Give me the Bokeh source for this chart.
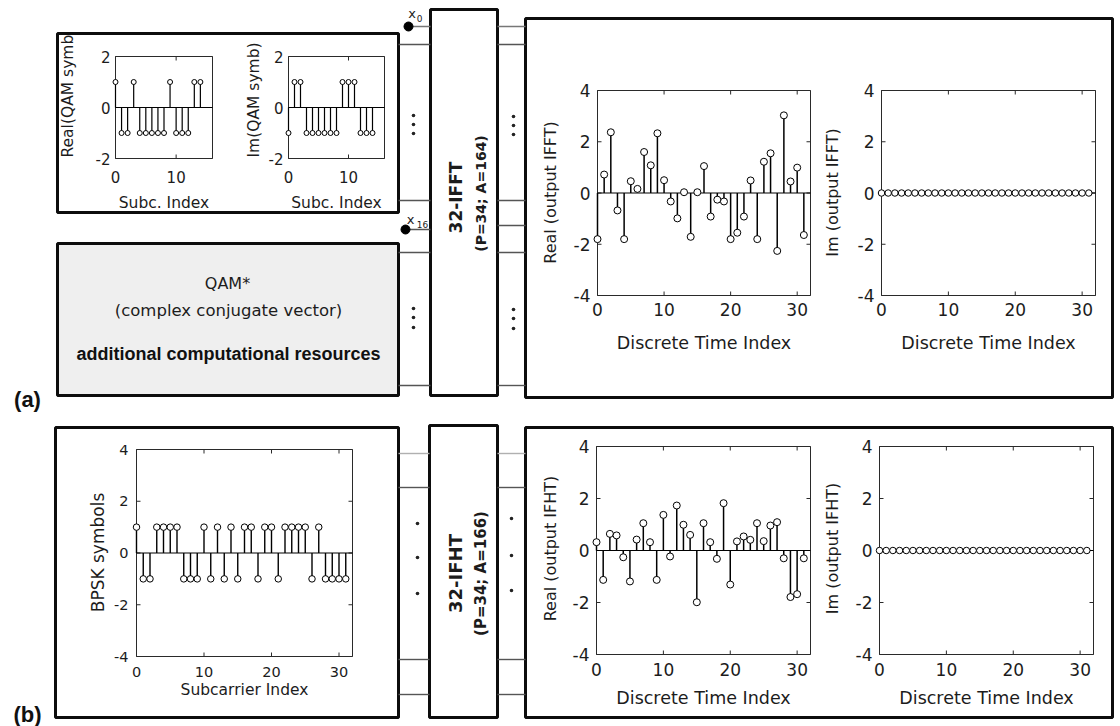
import math
from bokeh.plotting import figure
from bokeh.models import Range1d
from bokeh.embed import file_html
from bokeh.resources import INLINE
from bokeh.core.properties import value

W, H = 1120, 726
FONT = "DejaVu Sans"
INK = "#1c1c1c"
FRAME = "#2a2a2a"

# ---------------- data ----------------
qam_index = [0, 1, 2, 3, 4, 5, 6, 7, 8, 9, 10, 11, 12, 13, 14]
qam_real = [1, -1, -1, 1, -1, -1, -1, -1, -1, 1, -1, -1, -1, 1, 1]
qam_imag = [-1, 1, 1, -1, -1, -1, -1, -1, -1, 1, 1, 1, -1, -1, -1]

time_index = [0, 1, 2, 3, 4, 5, 6, 7, 8, 9, 10, 11, 12, 13, 14, 15,
              16, 17, 18, 19, 20, 21, 22, 23, 24, 25, 26, 27, 28, 29, 30, 31]
ifft_real = [-1.80, 0.72, 2.37, -0.68, -1.80, 0.46, 0.16, 1.60, 1.08, 2.33, 0.50, -0.33,
             -0.99, 0.03, -1.71, 0.03, 1.05, -0.92, -0.26, -0.33, -1.80, -1.55, -0.92, 0.49,
             -1.80, 1.22, 1.55, -2.26, 3.03, 0.45, 0.99, -1.64]
ifft_imag = [0, 0, 0, 0, 0, 0, 0, 0, 0, 0, 0, 0, 0, 0, 0, 0,
             0, 0, 0, 0, 0, 0, 0, 0, 0, 0, 0, 0, 0, 0, 0, 0]

bpsk = [1, -1, -1, 1, 1, 1, 1, -1, -1, -1, 1, -1, 1, -1, 1, -1,
        1, 1, -1, 1, 1, -1, 1, 1, 1, 1, -1, 1, -1, -1, -1, -1]
ifht_real = [0.32, -1.13, 0.64, 0.58, -0.26, -1.19, 0.42, 1.05, 0.32, -1.13, 1.37, -0.23,
             1.73, 0.99, 0.60, -1.99, 1.05, 0.32, -0.32, 1.82, -1.31, 0.35, 0.54, 0.41,
             1.05, 0.36, 0.96, 1.09, -0.30, -1.79, -1.68, -0.30]
ifht_imag = [0, 0, 0, 0, 0, 0, 0, 0, 0, 0, 0, 0, 0, 0, 0, 0,
             0, 0, 0, 0, 0, 0, 0, 0, 0, 0, 0, 0, 0, 0, 0, 0]

small_xticks = [0, 10]
small_yticks = [-2, 0, 2]
big_xticks = [0, 10, 20, 30]
big_yticks = [-4, -2, 0, 2, 4]

panels = [
    dict(name="qr", frame=(115, 212, 56, 158), xr=(0, 16), yr=(-2, 2), xt=small_xticks, yt=small_yticks,
         x=qam_index, y=qam_real, xlabel="Subc. Index", ylabel="Real(QAM symb",
         fs_t=15, fs_x=15.5, fs_y=15.5, tdx=-5, tdy=18, xldy=44, yl=(67, 157, "left"), ms=5, sw=1.2),
    dict(name="qi", frame=(288, 384, 56, 158), xr=(0, 16), yr=(-2, 2), xt=small_xticks, yt=small_yticks,
         x=qam_index, y=qam_imag, xlabel="Subc. Index", ylabel="Im(QAM symb)",
         fs_t=15, fs_x=15.5, fs_y=15.5, tdx=-5, tdy=18, xldy=44, yl=(253, 157, "left"), ms=5, sw=1.2),
    dict(name="br", frame=(597, 810, 90, 295), xr=(0, 32), yr=(-4, 4), xt=big_xticks, yt=big_yticks,
         x=time_index, y=ifft_real, xlabel="Discrete Time Index", ylabel="Real (output IFFT)",
         fs_t=17, fs_x=17.5, fs_y=16, tdx=-7, tdy=14, xldy=47, yl=(550, 192, "center"), ms=7, sw=1.5),
    dict(name="bi", frame=(881, 1095, 90, 295), xr=(0, 32), yr=(-4, 4), xt=big_xticks, yt=big_yticks,
         x=time_index, y=ifft_imag, xlabel="Discrete Time Index", ylabel="Im (output IFFT)",
         fs_t=17, fs_x=17.5, fs_y=16, tdx=-7, tdy=14, xldy=47, yl=(832, 192, "center"), ms=6.5, sw=1.5),
    dict(name="bp", frame=(136, 352, 449, 656), xr=(0, 32), yr=(-4, 4), xt=big_xticks, yt=big_yticks,
         x=time_index, y=bpsk, xlabel="Subcarrier Index", ylabel="BPSK symbols",
         fs_t=14.5, fs_x=15.5, fs_y=17, tdx=-8, tdy=15, xldy=33, yl=(97, 552, "center"), ms=6.5, sw=1.4),
    dict(name="hr", frame=(596, 810, 446, 654), xr=(0, 32), yr=(-4, 4), xt=big_xticks, yt=big_yticks,
         x=time_index, y=ifht_real, xlabel="Discrete Time Index", ylabel="Real (output IFHT)",
         fs_t=17, fs_x=17.5, fs_y=16, tdx=-7, tdy=15, xldy=43, yl=(550, 548, "center"), ms=7, sw=1.5),
    dict(name="hi", frame=(879, 1093, 446, 654), xr=(0, 32), yr=(-4, 4), xt=big_xticks, yt=big_yticks,
         x=time_index, y=ifht_imag, xlabel="Discrete Time Index", ylabel="Im (output IFHT)",
         fs_t=17, fs_x=17.5, fs_y=16, tdx=-7, tdy=15, xldy=43, yl=(832, 548, "center"), ms=6.5, sw=1.5),
]

# ---------------- figure: pixel-like main frame ----------------
p = figure(width=W, height=H, x_range=Range1d(0, W), y_range=Range1d(H, 0),
           output_backend="svg", toolbar_location=None, x_axis_type=None, y_axis_type=None,
           min_border=0, outline_line_color=None, background_fill_color="white",
           border_fill_color="white")

ex, ey = {}, {}
for s in panels:
    px0, px1, py0, py1 = s["frame"]
    x0, x1 = s["xr"]
    y0, y1 = s["yr"]
    ux = (x1 - x0) / (px1 - px0)
    uy = (y1 - y0) / (py1 - py0)
    s["ux"], s["uy"] = ux, uy
    ex[s["name"]] = Range1d(x0 - px0 * ux, x0 + (W - px0) * ux)
    ey[s["name"]] = Range1d(y0 - (H - py1) * uy, y1 + py0 * uy)
p.extra_x_ranges = ex
p.extra_y_ranges = ey


def txt(x, y, t, size, align="center", baseline="middle", angle=0.0, bold=False, font=FONT, color=INK, **kw):
    p.text(x=x, y=y, text=t, angle=angle, text_align=align, text_baseline=baseline,
           text_font=value(font), text_font_size=value(f"{size}px"),
           text_font_style="bold" if bold else "normal", text_color=color, **kw)


# ---------------- diagram boxes ----------------
box_l = [57, 57, 430, 525, 55, 429, 525]
box_r = [398, 398, 497, 1112, 398, 497, 1112]
box_t = [33, 243, 9, 18, 427, 425, 427]
box_b = [212, 395, 395, 397, 717, 717, 717]
box_fill = ["white", "#efefef", "white", "white", "white", "white", "white"]
p.quad(left=box_l, right=box_r, top=box_t, bottom=box_b, fill_color=box_fill,
       line_color="#0d0d0d", line_width=3)

# connector lines
cx0, cy0, cx1, cy1, ccol = [], [], [], [], []
for y in [44, 200, 252, 385]:
    cx0.append(398); cx1.append(430); cy0.append(y); cy1.append(y); ccol.append("#555555")
cx0 += [408, 405]; cx1 += [430, 430]; cy0 += [26, 229]; cy1 += [26, 229]; ccol += ["#777777", "#555555"]
for y in [26, 44, 200, 225, 252, 385]:
    cx0.append(497); cx1.append(525); cy0.append(y); cy1.append(y)
    ccol.append("#777777" if y == 26 else "#555555")
for y in [453, 487, 659, 694]:
    c = "#b0b0b0" if y == 453 else "#555555"
    cx0 += [398, 497]; cx1 += [429, 525]; cy0 += [y, y]; cy1 += [y, y]; ccol += [c, c]
p.segment(x0=cx0, y0=cy0, x1=cx1, y1=cy1, line_color=ccol, line_width=1.4)

# terminal dots x0, x16
p.scatter(x=[408, 405], y=[26, 229], size=9, marker="circle", fill_color="black", line_color="black")
txt([411.5], [12.5], ["x"], 13)
txt([419], [17.5], ["0"], 9)
txt([410], [219], ["x"], 13)
txt([422], [223.5], ["16"], 9)

# ellipsis dots
dx = [413, 413, 413, 413, 413, 413, 513, 513, 513, 513, 513, 513,
      417, 417, 417, 511, 511, 511]
dy = [115, 124, 133, 308, 317, 327, 116, 125, 134, 309, 318, 328,
      523, 557, 593, 518, 555, 590]
p.scatter(x=dx, y=dy, size=3.6, marker="circle", fill_color="#222222", line_color=None)

# block labels
txt([455], [197], ["32-IFFT"], 17, angle=math.pi / 2, bold=True)
txt([480], [193], ["(P=34; A=164)"], 14, angle=math.pi / 2, bold=True)
txt([455], [573], ["32-IFHT"], 18, angle=math.pi / 2, bold=True)
txt([480], [573], ["(P=34; A=166)"], 15, angle=math.pi / 2, bold=True)

# QAM* box
txt([227], [283], ["QAM*"], 16)
txt([228], [310], ["(complex conjugate vector)"], 16.5)
txt([228], [353], ["additional computational resources"], 18, bold=True, font="Liberation Sans", color="#111111")

# panel letters
txt([27], [399], ["(a)"], 22, bold=True, font="Liberation Sans", color="#111111")
txt([27], [714], ["(b)"], 22, bold=True, font="Liberation Sans", color="#111111")

# ---------------- stem panels ----------------
for s in panels:
    n = s["name"]
    kw = dict(x_range_name=n, y_range_name=n)
    x0, x1 = s["xr"]
    y0, y1 = s["yr"]
    ux, uy = s["ux"], s["uy"]
    tl = 4
    xt, yt = s["xt"], s["yt"]
    # frame
    p.quad(left=[x0], right=[x1], bottom=[y0], top=[y1], fill_color=None,
           line_color=FRAME, line_width=1, **kw)
    # inward ticks
    tx0 = xt + xt
    ty0 = [y0] * len(xt) + [y1] * len(xt)
    ty1 = [y0 + tl * uy] * len(xt) + [y1 - tl * uy] * len(xt)
    p.segment(x0=tx0, y0=ty0, x1=tx0, y1=ty1, line_color=FRAME, line_width=1, **kw)
    sx0 = [x0] * len(yt) + [x1] * len(yt)
    sx1 = [x0 + tl * ux] * len(yt) + [x1 - tl * ux] * len(yt)
    sy = yt + yt
    p.segment(x0=sx0, y0=sy, x1=sx1, y1=sy, line_color=FRAME, line_width=1, **kw)
    # tick labels
    txt(xt, [y0 - s["tdy"] * uy] * len(xt), [str(t) for t in xt], s["fs_t"], **kw)
    txt([x0 + s["tdx"] * ux] * len(yt), yt, [str(t) for t in yt], s["fs_t"], align="right", **kw)
    # x label
    txt([(x0 + x1) / 2], [y0 - s["xldy"] * uy], [s["xlabel"]], s["fs_x"], **kw)
    # y label (main coordinates)
    lx, ly, la = s["yl"]
    txt([lx], [ly], [s["ylabel"]], s["fs_y"], align=la, angle=math.pi / 2)
    # baseline, stems, markers
    xs, ys = s["x"], s["y"]
    p.segment(x0=[x0], y0=[0], x1=[x1], y1=[0], line_color="black", line_width=1.2, **kw)
    p.segment(x0=xs, y0=[0] * len(xs), x1=xs, y1=ys, line_color="black", line_width=s["sw"], **kw)
    p.scatter(x=xs, y=ys, size=s["ms"], marker="circle", fill_color="white",
              line_color="black", line_width=1, **kw)

open("out.html", "w").write(file_html(p, INLINE))
